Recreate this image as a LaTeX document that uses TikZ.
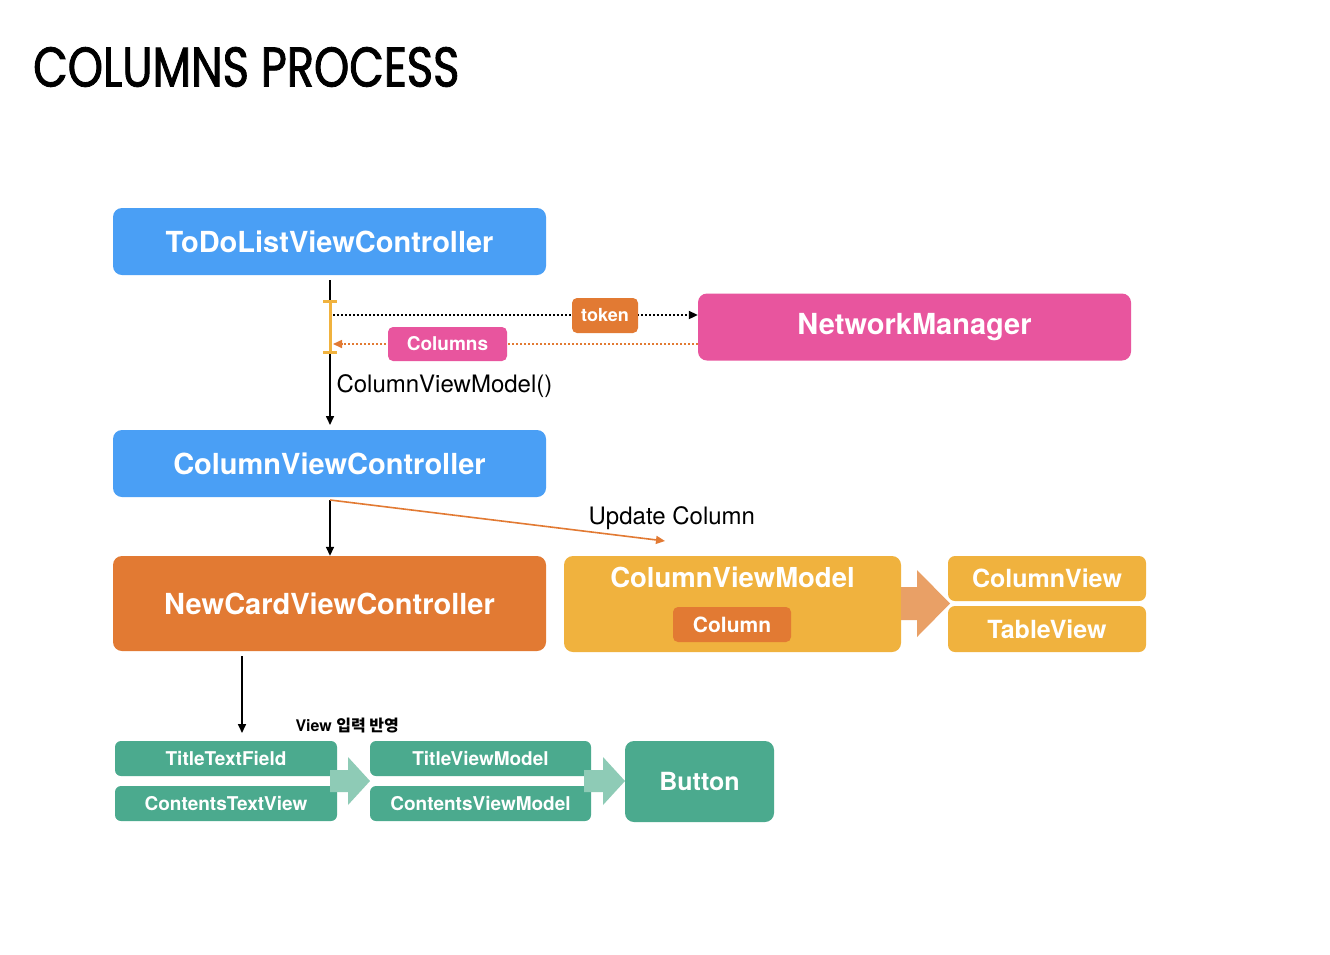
\documentclass[tikz,border=0pt]{standalone}
\usepackage{fontspec}
\setmainfont{TeX Gyre Heros}
\newfontfamily\titlefont{Poppins}[FakeStretch=0.8, FakeBold=1.5]
\newfontfamily\kofont{Noto Sans CJK KR}
\usepackage{tikz}
\usetikzlibrary{positioning, arrows.meta, calc}

\definecolor{vcblue}{RGB}{74,159,245}
\definecolor{netpink}{RGB}{232,85,158}
\definecolor{cardorange}{RGB}{226,122,51}
\definecolor{vmyellow}{RGB}{240,178,62}
\definecolor{viewgreen}{RGB}{75,170,142}
\definecolor{fatgreen}{RGB}{142,203,182}
\definecolor{fatorange}{RGB}{233,160,102}

\tikzset{
  bigbox/.style={
    fill=#1, rounded corners=9pt, text=white,
    minimum width=433, minimum height=67,
    align=center, font=\bfseries\fontsize{29}{33}\selectfont
  },
  tagbox/.style={
    fill=#1, rounded corners=5pt, text=white,
    minimum height=35, inner sep=0pt,
    align=center, font=\bfseries\fontsize{18}{22}\selectfont
  },
  viewbox/.style={
    fill=#1, rounded corners=7pt, text=white,
    minimum width=198, minimum height=45, inner sep=0pt,
    align=center, font=\bfseries\fontsize{25}{29}\selectfont
  },
  greenbox/.style={
    fill=viewgreen, rounded corners=6pt, text=white,
    minimum width=222, minimum height=35, inner sep=0pt,
    align=center, font=\bfseries\fontsize{19}{23}\selectfont
  },
  arrow/.style={line width=1.6pt, -{Triangle[length=9pt,width=8pt]}},
  plain/.style={font=\fontsize{24}{28}\selectfont}
}

\begin{document}
\begin{tikzpicture}[x=1pt, y=-1pt]
\useasboundingbox[fill=white] (0,0) rectangle (1330,954);

%% ── Title ───────────────────────────────────────────────────
\node[anchor=west, inner sep=0pt, font=\titlefont\fontsize{56}{62}\selectfont] (title) at (33,67) {COLUMNS PROCESS};

%% ── Controllers ─────────────────────────────────────────────
\node[bigbox=vcblue] (todo) at (329.5,241.5) {ToDoListViewController};
\node[bigbox=netpink] (network) at (914.5,327) {NetworkManager};
\node[bigbox=vcblue] (columnvc) at (329.5,463.5) {ColumnViewController};
\node[bigbox=cardorange, minimum height=95] (newcard) at (329.5,603.5) {NewCardViewController};

%% ── Request / response ──────────────────────────────────────
\coordinate (todoout) at (330,280);
\coordinate (columnvcin) at (330,425);
\draw[arrow] (todoout) -- (columnvcin);
\draw[vmyellow, line width=3pt, {|[width=14pt]}-{|[width=14pt]}] (330,300) -- (330,354);
\coordinate (reqstart) at (333,315);
\coordinate (resend) at (333,344);
\draw[arrow, line width=2pt, dash pattern=on 2pt off 2pt] (reqstart) -- (reqstart -| network.west);
\draw[cardorange, arrow, line width=1.6pt, dash pattern=on 2pt off 2pt] (resend -| network.west) -- (resend);
\node[tagbox=cardorange, minimum width=66] (token) at (605,315.5) {token};
\node[tagbox=netpink, minimum width=119, minimum height=34,
      font=\bfseries\fontsize{19}{23}\selectfont] (columns) at (447.5,344) {Columns};
\node[plain, anchor=west] (cvmcall) at (333,386) {ColumnViewModel()};

%% ── From ColumnViewController ────────────────────────────────
\coordinate (cvcout) at (330,500);
\draw[arrow] (cvcout) -- (newcard.north -| cvcout);
\draw[cardorange, arrow] (cvcout) -- (665,541);
\node[plain, anchor=west] (update) at (585,518) {Update Column};

%% ── ColumnViewModel ─────────────────────────────────────────
\node[fill=vmyellow, rounded corners=9pt, minimum width=337, minimum height=96] (columnvm) at (732.5,604) {};
\node[text=white, font=\bfseries\fontsize{27.5}{31}\selectfont] (columnvmlabel) at (732.5,577) {ColumnViewModel};
\node[tagbox=cardorange, minimum width=118, font=\bfseries\fontsize{21}{25}\selectfont] (column) at (732,624.5) {Column};

\node[viewbox=vmyellow] (columnview) at (1047,578.5) {ColumnView};
\node[viewbox=vmyellow, minimum height=46] (tableview) at (1047,629) {TableView};

\fill[fatorange] (901,587) -- (917,587) -- (917,570) -- (950,603.5)
  -- (917,637) -- (917,620) -- (901,620) -- cycle;

%% ── NewCard inputs ──────────────────────────────────────────
\coordinate (cardout) at (242,656);
\draw[arrow] (cardout) -- (242,733);
\node[font=\bfseries\fontsize{16}{20}\selectfont, anchor=west] (reflect) at (292,726) {View {\kofont 입력 반영}};

\node[greenbox] (titlefield) at (226,758.5) {TitleTextField};
\node[greenbox] (contentsview) at (226,803.5) {ContentsTextView};
\node[greenbox, minimum width=221] (titlevm) at (480.5,758.5) {TitleViewModel};
\node[greenbox, minimum width=221] (contentsvm) at (480.5,803.5) {ContentsViewModel};
\node[fill=viewgreen, rounded corners=9pt, text=white, minimum width=149, minimum height=81,
      font=\bfseries\fontsize{25}{29}\selectfont] (button) at (699.5,781.5) {Button};

\fill[fatgreen] (330,770) -- (348,770) -- (348,757) -- (370,781)
  -- (348,805) -- (348,792) -- (330,792) -- cycle;
\fill[fatgreen] (584,770) -- (603,770) -- (603,757) -- (625,781)
  -- (603,805) -- (603,792) -- (584,792) -- cycle;

\end{tikzpicture}
\end{document}
